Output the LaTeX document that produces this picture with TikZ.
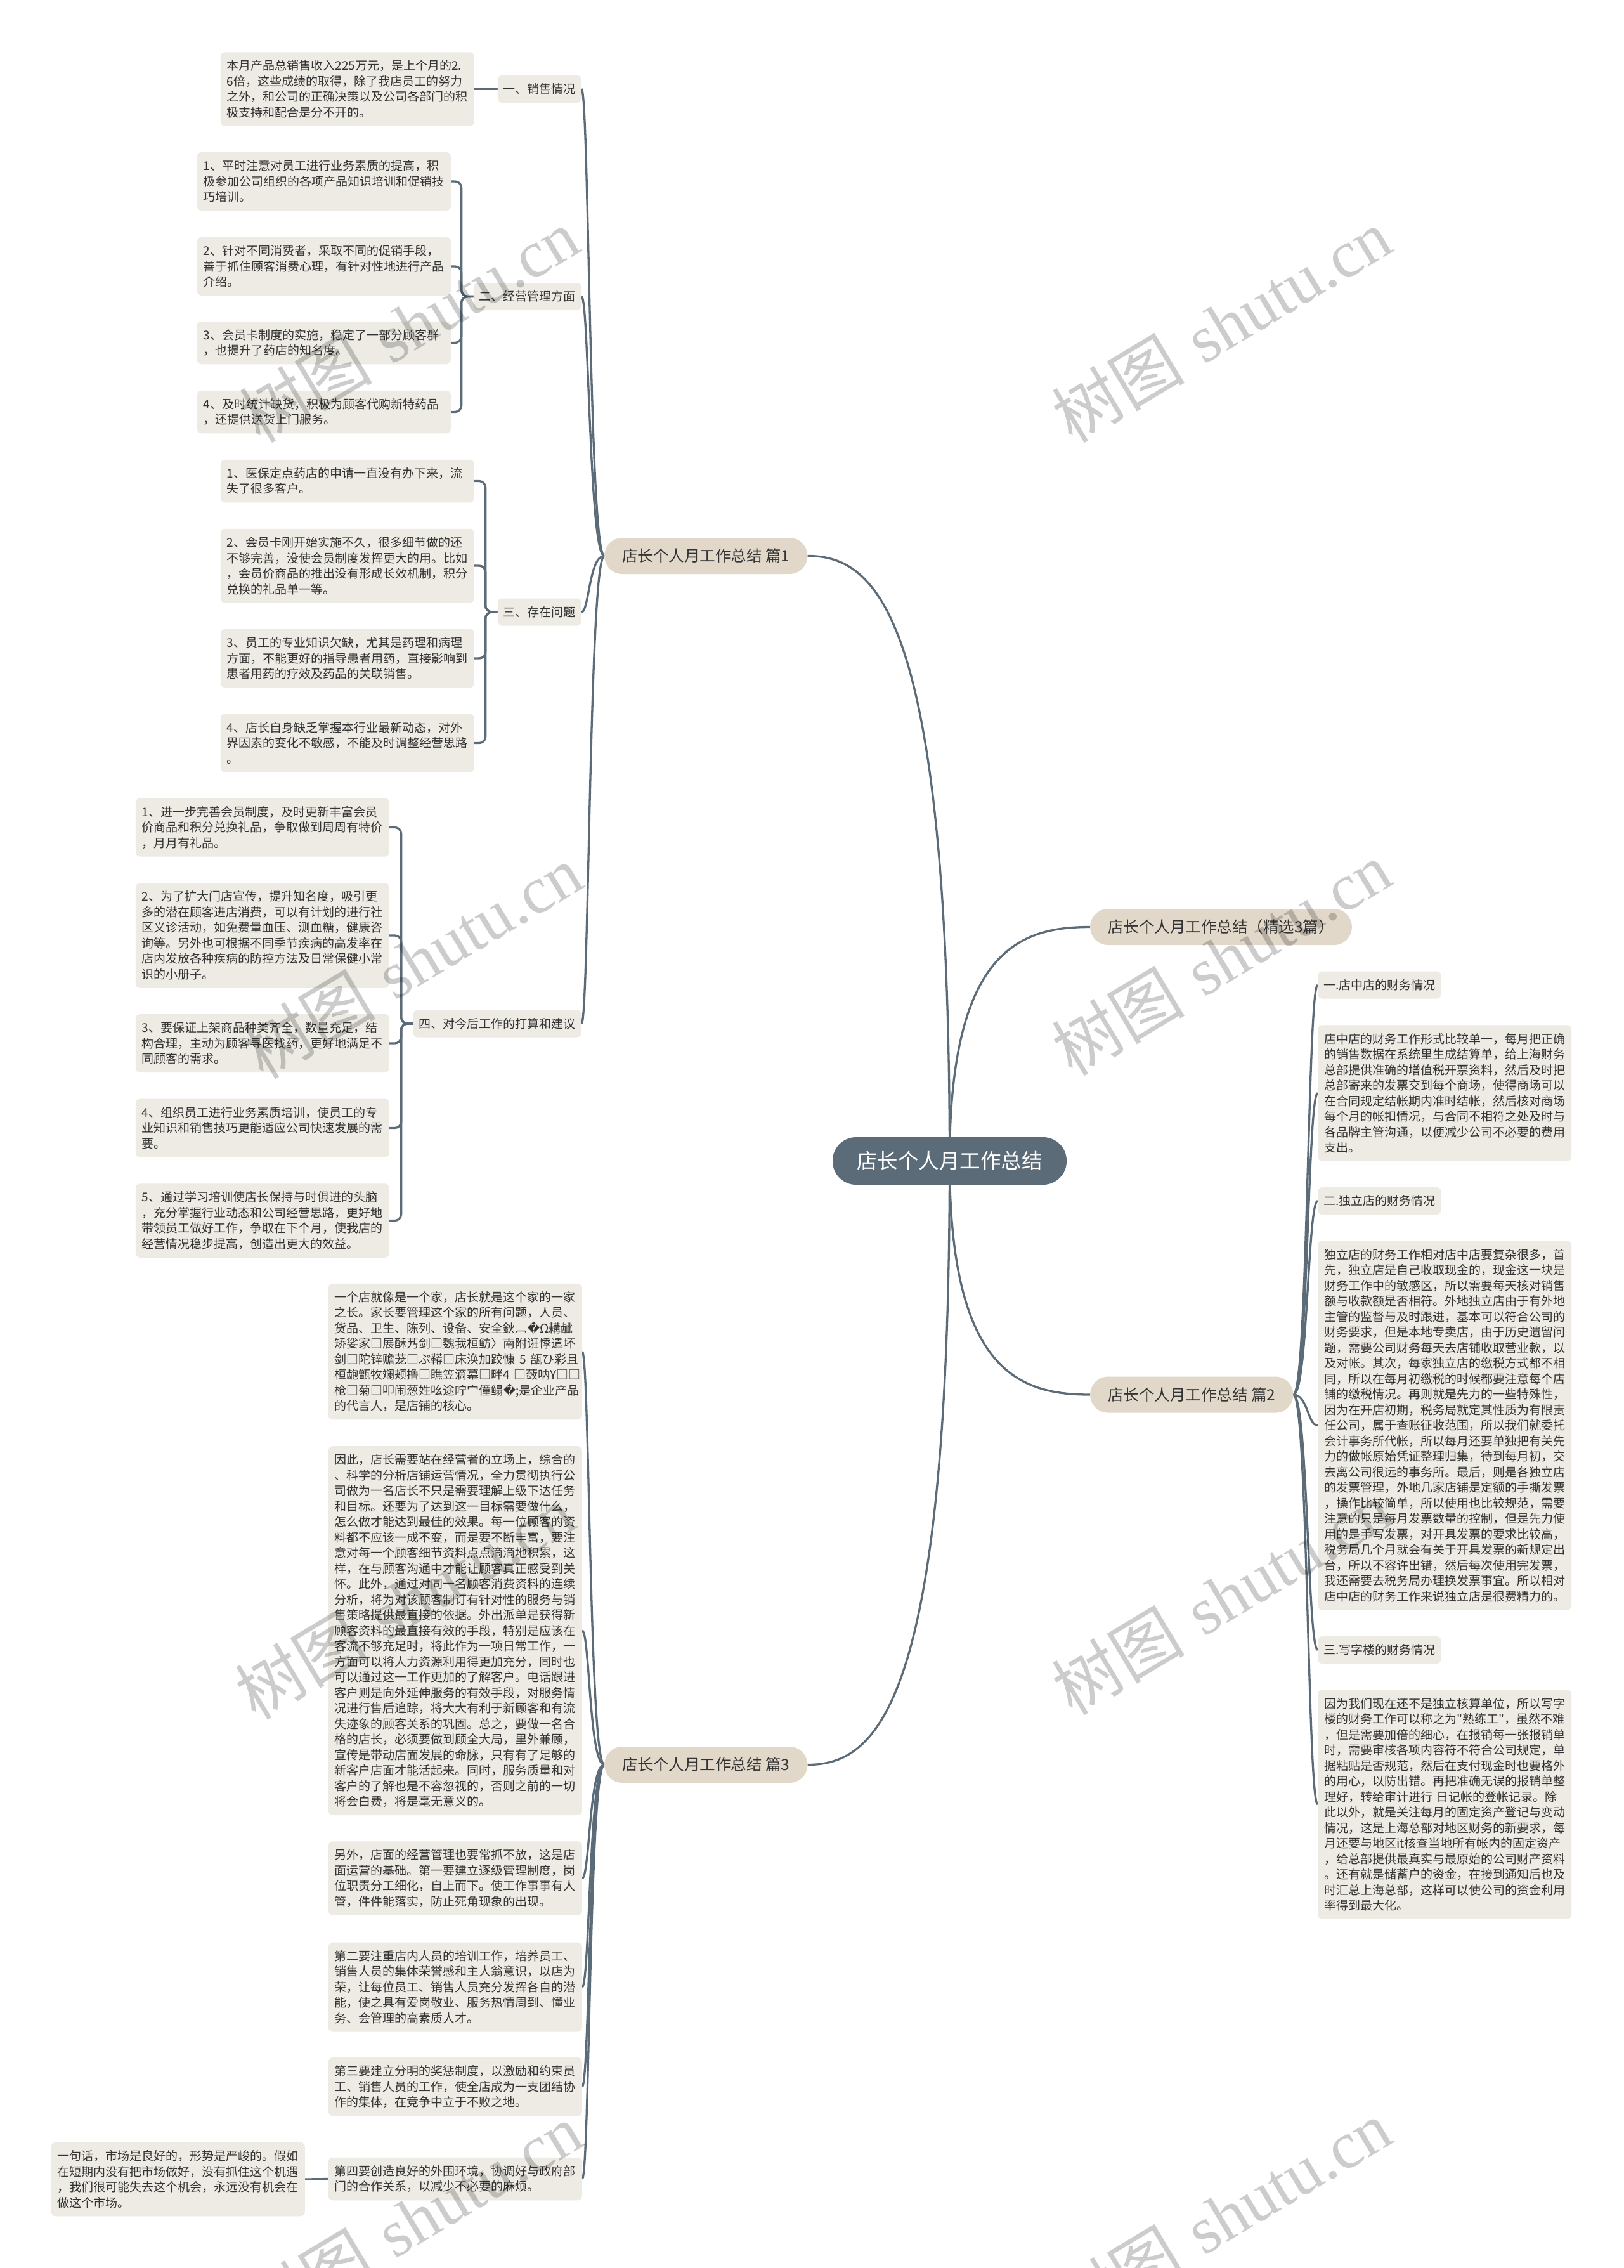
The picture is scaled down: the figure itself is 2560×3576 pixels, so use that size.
\documentclass[tikz,border=0pt]{standalone}
\usepackage{fontspec}
\newfontfamily\cjk{Noto Sans CJK SC}
\newfontfamily\djv{DejaVu Sans}
\newfontfamily\wmserif{Liberation Serif}
\definecolor{rootc}{HTML}{5B6C78}
\definecolor{linec}{HTML}{5B6C78}
\definecolor{lonec}{HTML}{E1D8CA}
\definecolor{leafc}{HTML}{EEEBE4}
\definecolor{txtc}{HTML}{333333}
\newcommand\rpc{{\djv\char65533}}
\pgfdeclarelayer{back}
\pgfdeclarelayer{bg}
\pgfsetlayers{back,bg,main}
\tikzset{
  conn/.style={draw=linec, line width=3.3pt},
  rootn/.style={fill=rootc, text=white, rounded corners=37pt, minimum width=369pt, minimum height=75pt, inner sep=0pt, font=\cjk\fontsize{32.5}{36}\selectfont},
  lone/.style={fill=lonec, text=txtc, rounded corners=28pt, minimum height=57pt, inner xsep=28pt, inner ysep=0pt, font=\cjk\fontsize{24.5}{28}\selectfont},
  lab/.style={fill=leafc, text=txtc, rounded corners=7pt, minimum height=43pt, inner xsep=9pt, inner ysep=0pt, font=\cjk\fontsize{19}{24.5}\selectfont},
  leaf/.style={fill=leafc, text=txtc, rounded corners=7pt, inner xsep=10pt, inner ysep=10pt, text width=380pt, align=left, font=\cjk\fontsize{19}{24.5}\selectfont},
  nlines/.style={minimum height={24.5*(#1-1)+43}},
  wm/.style={text=black, text opacity=0.2, rotate=31, inner sep=0pt, font=\cjk\fontsize{105}{110}\selectfont},
}
\begin{document}
\begin{tikzpicture}[x=1pt, y=-1pt]
\begin{pgfonlayer}{back}
\fill[white] (0,0) rectangle (2560,3576);
\end{pgfonlayer}
\useasboundingbox (0,0) rectangle (2560,3576);

% root and level 1
\node[rootn] (root) at (1497.5,1830.5) {店长个人月工作总结};
\node[lone, anchor=west] (p0) at (1719,1461.5) {店长个人月工作总结（精选3篇）};
\node[lone, anchor=west] (p1) at (953,876.5) {店长个人月工作总结 篇1};
\node[lone, anchor=west] (p2) at (1719,2199) {店长个人月工作总结 篇2};
\node[lone, anchor=west] (p3) at (953,2782.5) {店长个人月工作总结 篇3};

% ---- 篇1 ----
\node[lab, anchor=east] (a1) at (917,140.5) {一、销售情况};
\node[leaf, nlines=4, anchor=east] (a1t) at (748,140.5) {本月产品总销售收入225万元，是上个月的2.\\6倍，这些成绩的取得，除了我店员工的努力\\之外，和公司的正确决策以及公司各部门的积\\极支持和配合是分不开的。};

\node[lab, anchor=east] (a2) at (917,467.5) {二、经营管理方面};
\node[leaf, nlines=3, anchor=east] (a2i1) at (711,286) {1、平时注意对员工进行业务素质的提高，积\\极参加公司组织的各项产品知识培训和促销技\\巧培训。};
\node[leaf, nlines=3, anchor=east] (a2i2) at (711,420) {2、针对不同消费者，采取不同的促销手段，\\善于抓住顾客消费心理，有针对性地进行产品\\介绍。};
\node[leaf, nlines=2, anchor=east] (a2i3) at (711,540.5) {3、会员卡制度的实施，稳定了一部分顾客群\\，也提升了药店的知名度。};
\node[leaf, nlines=2, anchor=east] (a2i4) at (711,649.5) {4、及时统计缺货，积极为顾客代购新特药品\\，还提供送货上门服务。};

\node[lab, anchor=east] (a3) at (917,965) {三、存在问题};
\node[leaf, nlines=2, anchor=east] (a3i1) at (748,758.5) {1、医保定点药店的申请一直没有办下来，流\\失了很多客户。};
\node[leaf, nlines=4, anchor=east] (a3i2) at (748,892) {2、会员卡刚开始实施不久，很多细节做的还\\不够完善，没使会员制度发挥更大的用。比如\\，会员价商品的推出没有形成长效机制，积分\\兑换的礼品单一等。};
\node[leaf, nlines=3, anchor=east] (a3i3) at (748,1038) {3、员工的专业知识欠缺，尤其是药理和病理\\方面，不能更好的指导患者用药，直接影响到\\患者用药的疗效及药品的关联销售。};
\node[leaf, nlines=3, anchor=east] (a3i4) at (748,1171.5) {4、店长自身缺乏掌握本行业最新动态，对外\\界因素的变化不敏感，不能及时调整经营思路\\。};

\node[lab, anchor=east] (a4) at (917,1614) {四、对今后工作的打算和建议};
\node[leaf, nlines=3, anchor=east] (a4i1) at (614,1304.5) {1、进一步完善会员制度，及时更新丰富会员\\价商品和积分兑换礼品，争取做到周周有特价\\，月月有礼品。};
\node[leaf, nlines=6, anchor=east] (a4i2) at (614,1475) {2、为了扩大门店宣传，提升知名度，吸引更\\多的潜在顾客进店消费，可以有计划的进行社\\区义诊活动，如免费量血压、测血糖，健康咨\\询等。另外也可根据不同季节疾病的高发率在\\店内发放各种疾病的防控方法及日常保健小常\\识的小册子。};
\node[leaf, nlines=3, anchor=east] (a4i3) at (614,1645) {3、要保证上架商品种类齐全，数量充足，结\\构合理，主动为顾客寻医找药，更好地满足不\\同顾客的需求。};
\node[leaf, nlines=3, anchor=east] (a4i4) at (614,1778.5) {4、组织员工进行业务素质培训，使员工的专\\业知识和销售技巧更能适应公司快速发展的需\\要。};
\node[leaf, nlines=4, anchor=east] (a4i5) at (614,1924.5) {5、通过学习培训使店长保持与时俱进的头脑\\，充分掌握行业动态和公司经营思路，更好地\\带领员工做好工作，争取在下个月，使我店的\\经营情况稳步提高，创造出更大的效益。};

% ---- 篇3 ----
\node[leaf, nlines=8, anchor=east] (c1) at (918,2131) {一个店就像是一个家，店长就是这个家的一家\\之长。家长要管理这个家的所有问题，人员、\\货品、卫生、陈列、设备、安全鈥︹\rpc Ω耩龇\\矫娑家□展酥艿剑□魏我桓鲂〉南附诳悸遣坏\\剑□陀锌赡茏□ぷ鞯□床涣加跤慷~5~瓿ひ彩且\\桓龅甑牧斓颊撸□瞧笠滴幕□畔4~□蔹呐Y□□\\枪□菊□叩闹葱姓吆途咛宀僮鳎\rpc;是企业产品\\的代言人，是店铺的核心。};
\node[leaf, nlines=23, anchor=east] (c2) at (918,2571) {因此，店长需要站在经营者的立场上，综合的\\、科学的分析店铺运营情况，全力贯彻执行公\\司做为一名店长不只是需要理解上级下达任务\\和目标。还要为了达到这一目标需要做什么，\\怎么做才能达到最佳的效果。每一位顾客的资\\料都不应该一成不变，而是要不断丰富，要注\\意对每一个顾客细节资料点点滴滴地积累，这\\样，在与顾客沟通中才能让顾客真正感受到关\\怀。此外，通过对同一名顾客消费资料的连续\\分析，将为对该顾客制订有针对性的服务与销\\售策略提供最直接的依据。外出派单是获得新\\顾客资料的最直接有效的手段，特别是应该在\\客流不够充足时，将此作为一项日常工作，一\\方面可以将人力资源利用得更加充分，同时也\\可以通过这一工作更加的了解客户。电话跟进\\客户则是向外延伸服务的有效手段，对服务情\\况进行售后追踪，将大大有利于新顾客和有流\\失迹象的顾客关系的巩固。总之，要做一名合\\格的店长，必须要做到顾全大局，里外兼顾，\\宣传是带动店面发展的命脉，只有有了足够的\\新客户店面才能活起来。同时，服务质量和对\\客户的了解也是不容忽视的，否则之前的一切\\将会白费，将是毫无意义的。};
\node[leaf, nlines=4, anchor=east] (c3) at (918,2961.5) {另外，店面的经营管理也要常抓不放，这是店\\面运营的基础。第一要建立逐级管理制度，岗\\位职责分工细化，自上而下。使工作事事有人\\管，件件能落实，防止死角现象的出现。};
\node[leaf, nlines=5, anchor=east] (c4) at (918,3133) {第二要注重店内人员的培训工作，培养员工、\\销售人员的集体荣誉感和主人翁意识，以店为\\荣，让每位员工、销售人员充分发挥各自的潜\\能，使之具有爱岗敬业、服务热情周到、懂业\\务、会管理的高素质人才。};
\node[leaf, nlines=3, anchor=east] (c5) at (918,3290) {第三要建立分明的奖惩制度，以激励和约束员\\工、销售人员的工作，使全店成为一支团结协\\作的集体，在竞争中立于不败之地。};
\node[leaf, nlines=2, anchor=east] (c6) at (918,3435.5) {第四要创造良好的外围环境，协调好与政府部\\门的合作关系，以减少不必要的麻烦。};
\node[leaf, nlines=4, anchor=east] (c6t) at (481,3436) {一句话，市场是良好的，形势是严峻的。假如\\在短期内没有把市场做好，没有抓住这个机遇\\，我们很可能失去这个机会，永远没有机会在\\做这个市场。};

% ---- 篇2 ----
\node[lab, anchor=west] (b1) at (2078,1553) {一.店中店的财务情况};
\node[leaf, nlines=8, anchor=west] (b1t) at (2078,1723.5) {店中店的财务工作形式比较单一，每月把正确\\的销售数据在系统里生成结算单，给上海财务\\总部提供准确的增值税开票资料，然后及时把\\总部寄来的发票交到每个商场，使得商场可以\\在合同规定结帐期内准时结帐，然后核对商场\\每个月的帐扣情况，与合同不相符之处及时与\\各品牌主管沟通，以便减少公司不必要的费用\\支出。};
\node[lab, anchor=west] (b2) at (2078,1893.5) {二.独立店的财务情况};
\node[leaf, nlines=23, anchor=west] (b2t) at (2078,2247.5) {独立店的财务工作相对店中店要复杂很多，首\\先，独立店是自己收取现金的，现金这一块是\\财务工作中的敏感区，所以需要每天核对销售\\额与收款额是否相符。外地独立店由于有外地\\主管的监督与及时跟进，基本可以符合公司的\\财务要求，但是本地专卖店，由于历史遗留问\\题，需要公司财务每天去店铺收取营业款，以\\及对帐。其次，每家独立店的缴税方式都不相\\同，所以在每月初缴税的时候都要注意每个店\\铺的缴税情况。再则就是先力的一些特殊性，\\因为在开店初期，税务局就定其性质为有限责\\任公司，属于查账征收范围，所以我们就委托\\会计事务所代帐，所以每月还要单独把有关先\\力的做帐原始凭证整理归集，待到每月初，交\\去离公司很远的事务所。最后，则是各独立店\\的发票管理，外地几家店铺是定额的手撕发票\\，操作比较简单，所以使用也比较规范，需要\\注意的只是每月发票数量的控制，但是先力使\\用的是手写发票，对开具发票的要求比较高，\\税务局几个月就会有关于开具发票的新规定出\\台，所以不容许出错，然后每次使用完发票，\\我还需要去税务局办理换发票事宜。所以相对\\店中店的财务工作来说独立店是很费精力的。};
\node[lab, anchor=west] (b3) at (2078,2601.5) {三.写字楼的财务情况};
\node[leaf, nlines=14, anchor=west] (b3t) at (2078,2845) {因为我们现在还不是独立核算单位，所以写字\\楼的财务工作可以称之为"熟练工"，虽然不难\\，但是需要加倍的细心，在报销每一张报销单\\时，需要审核各项内容符不符合公司规定，单\\据粘贴是否规范，然后在支付现金时也要格外\\的用心，以防出错。再把准确无误的报销单整\\理好，转给审计进行~日记帐的登帐记录。除\\此以外，就是关注每月的固定资产登记与变动\\情况，这是上海总部对地区财务的新要求，每\\月还要与地区it核查当地所有帐内的固定资产\\，给总部提供最真实与最原始的公司财产资料\\。还有就是储蓄户的资金，在接到通知后也及\\时汇总上海总部，这样可以使公司的资金利用\\率得到最大化。};

% ---- connectors ----
\begin{pgfonlayer}{bg}
\draw[conn] (root.center) .. controls +(0,-332) and +(-111,0) .. (p0.west);
\draw[conn] (root.center) .. controls +(0,-858) and +(110,0) .. (p1.east);
\draw[conn] (root.center) .. controls +(0,332) and +(-111,0) .. (p2.west);
\draw[conn] (root.center) .. controls +(0,857) and +(110,0) .. (p3.east);

\foreach \c in {a1,a2,a3,a4}
  \draw[conn] (p1.west) .. controls +(-24,0) and +(12,0) .. (\c.east);
\foreach \c in {c1,c2,c3,c4,c5,c6}
  \draw[conn] (p3.west) .. controls +(-24,0) and +(12,0) .. (\c.east);
\foreach \c in {b1,b1t,b2,b2t,b3,b3t}
  \draw[conn] (p2.east) .. controls +(23,0) and +(-16,0) .. (\c.west);

\draw[conn] (a1.west) -- (a1t.east);
\draw[conn] (c6.west) -- (c6t.east);
\foreach \c in {a2i1,a2i2,a2i3,a2i4}
  \draw[conn, rounded corners=10pt] (a2.west) -- ++(-19,0) |- (\c.east);
\foreach \c in {a3i1,a3i2,a3i3,a3i4}
  \draw[conn, rounded corners=10pt] (a3.west) -- ++(-19,0) |- (\c.east);
\foreach \c in {a4i1,a4i2,a4i3,a4i4,a4i5}
  \draw[conn, rounded corners=10pt] (a4.west) -- ++(-19,0) |- (\c.east);
\end{pgfonlayer}

% ---- watermarks ----
\foreach \wx/\wy [count=\i] in {645/513,1926/513,650/1516,1926/1511,638/2526,1926/2519,650/3500,1926/3495}
  \node[wm] (wm\i) at (\wx,\wy) {树图\hspace{0.3em}{\wmserif shutu.cn}};
\end{tikzpicture}
\end{document}
